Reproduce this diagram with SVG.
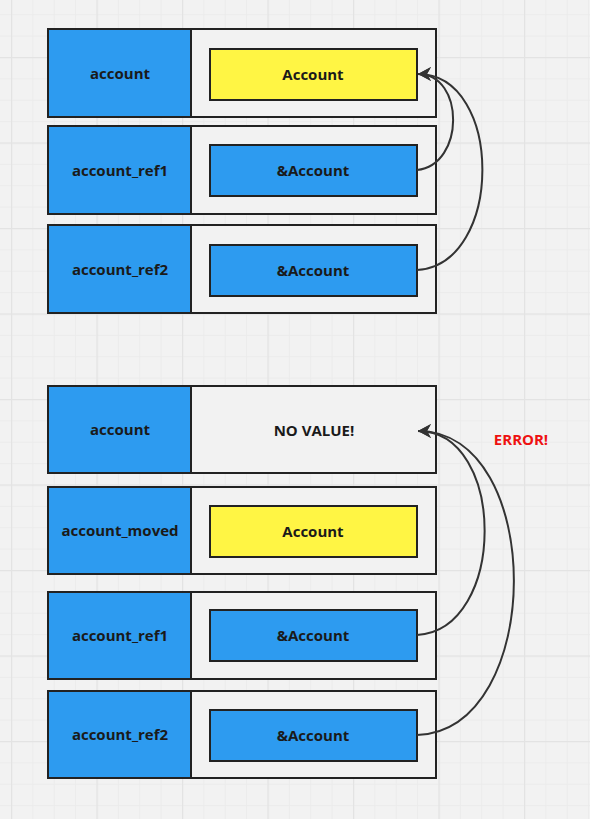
<svg xmlns="http://www.w3.org/2000/svg" width="590" height="819" viewBox="0 0 590 819">
<defs>
<pattern id="minor" patternUnits="userSpaceOnUse" x="11" y="-28.5" width="21.375" height="21.375">
<path d="M0,0.5 H21.375 M0.5,0 V21.375" stroke="#ebebeb" stroke-width="1" fill="none"/>
</pattern>
<pattern id="major" patternUnits="userSpaceOnUse" x="11" y="-28.5" width="85.5" height="85.5">
<path d="M0,0.5 H85.5 M0.5,0 V85.5" stroke="#e3e3e3" stroke-width="1.5" fill="none"/>
</pattern>
<marker id="arrow" viewBox="0 0 14 14" refX="13" refY="7" markerWidth="14" markerHeight="14" markerUnits="userSpaceOnUse" orient="auto">
<path d="M13,7 L0,0 L4,7 L0,14 Z" fill="#333"/>
</marker>
</defs>
<style>
.outer{fill:#f2f2f2;stroke:#222;stroke-width:2}
.name{fill:#2d9bf0;stroke:#222;stroke-width:2}
.val{fill:#fff544;stroke:#222;stroke-width:2}
.ref{fill:#2d9bf0;stroke:#222;stroke-width:2}
text{font-family:"Open Sans","Liberation Sans",sans-serif;font-weight:700;font-size:15px;fill:#1a1a1a;text-anchor:middle;dominant-baseline:central}
.err{fill:#ee1111}
.conn{fill:none;stroke:#333;stroke-width:2}
</style>
<rect width="590" height="819" fill="#f2f2f2"/>
<rect width="590" height="819" fill="url(#minor)"/>
<rect width="590" height="819" fill="url(#major)"/>

<g id="top-account">
<rect class="outer" x="48" y="29" width="388" height="88"/>
<rect class="name" x="48" y="29" width="143" height="88"/>
<text x="120" y="73">account</text>
<rect class="val" x="210" y="49" width="207" height="51"/>
<text x="313" y="74">Account</text>
</g>
<g id="top-account_ref1">
<rect class="outer" x="48" y="126" width="388" height="88"/>
<rect class="name" x="48" y="126" width="143" height="88"/>
<text x="120" y="170">account_ref1</text>
<rect class="ref" x="210" y="145" width="207" height="51"/>
<text x="313" y="170">&amp;Account</text>
</g>
<g id="top-account_ref2">
<rect class="outer" x="48" y="225" width="388" height="88"/>
<rect class="name" x="48" y="225" width="143" height="88"/>
<text x="120" y="269">account_ref2</text>
<rect class="ref" x="210" y="245" width="207" height="51"/>
<text x="313" y="270">&amp;Account</text>
</g>

<g id="bottom-account">
<rect class="outer" x="48" y="386" width="388" height="87"/>
<rect class="name" x="48" y="386" width="143" height="87"/>
<text x="120" y="429">account</text>
<text x="314" y="430">NO VALUE!</text>
</g>
<g id="bottom-account_moved">
<rect class="outer" x="48" y="487" width="388" height="87"/>
<rect class="name" x="48" y="487" width="143" height="87"/>
<text x="120" y="530">account_moved</text>
<rect class="val" x="210" y="506" width="207" height="51"/>
<text x="313" y="531">Account</text>
</g>
<g id="bottom-account_ref1">
<rect class="outer" x="48" y="592" width="388" height="87"/>
<rect class="name" x="48" y="592" width="143" height="87"/>
<text x="120" y="635">account_ref1</text>
<rect class="ref" x="210" y="610" width="207" height="51"/>
<text x="313" y="635">&amp;Account</text>
</g>
<g id="bottom-account_ref2">
<rect class="outer" x="48" y="691" width="388" height="87"/>
<rect class="name" x="48" y="691" width="143" height="87"/>
<text x="120" y="734">account_ref2</text>
<rect class="ref" x="210" y="710" width="207" height="51"/>
<text x="313" y="735">&amp;Account</text>
</g>

<g id="error-label">
<text class="err" x="521" y="439">ERROR!</text>
</g>

<g id="connectors">
<path class="conn" d="M417,170 C465,165 465,74 418,74" marker-end="url(#arrow)"/>
<path class="conn" d="M417,270 C504,265 504,74 418,74" marker-end="url(#arrow)"/>
<path class="conn" d="M417,635 C507,630 507,431 418,431" marker-end="url(#arrow)"/>
<path class="conn" d="M417,735 C546,730 546,431 418,431" marker-end="url(#arrow)"/>
</g>
</svg>
